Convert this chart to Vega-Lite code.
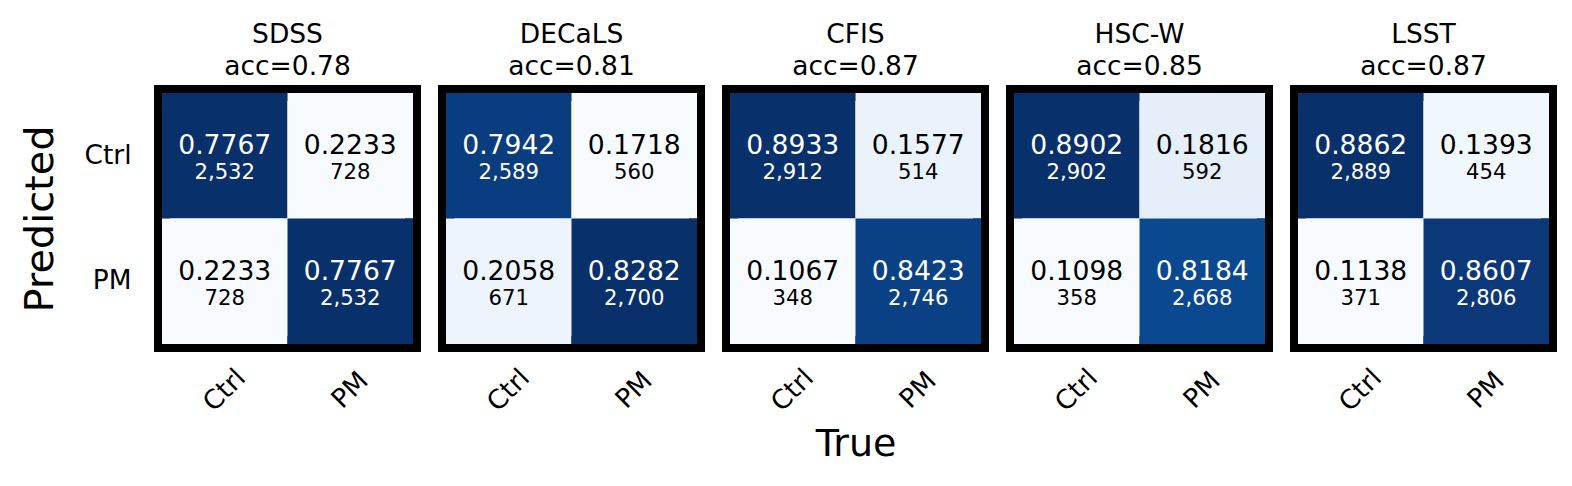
{
  "$schema": "https://vega.github.io/schema/vega-lite/v6.json",
  "padding": {"left": 20, "top": 22, "right": 5, "bottom": 5},
  "background": "white",
  "data": {"values": [
    {"panel": "SDSS|acc=0.78", "true": "Ctrl", "pred": "Ctrl", "frac": 0.7767, "count": 2532},
    {"panel": "SDSS|acc=0.78", "true": "PM", "pred": "Ctrl", "frac": 0.2233, "count": 728},
    {"panel": "SDSS|acc=0.78", "true": "Ctrl", "pred": "PM", "frac": 0.2233, "count": 728},
    {"panel": "SDSS|acc=0.78", "true": "PM", "pred": "PM", "frac": 0.7767, "count": 2532},
    {"panel": "DECaLS|acc=0.81", "true": "Ctrl", "pred": "Ctrl", "frac": 0.7942, "count": 2589},
    {"panel": "DECaLS|acc=0.81", "true": "PM", "pred": "Ctrl", "frac": 0.1718, "count": 560},
    {"panel": "DECaLS|acc=0.81", "true": "Ctrl", "pred": "PM", "frac": 0.2058, "count": 671},
    {"panel": "DECaLS|acc=0.81", "true": "PM", "pred": "PM", "frac": 0.8282, "count": 2700},
    {"panel": "CFIS|acc=0.87", "true": "Ctrl", "pred": "Ctrl", "frac": 0.8933, "count": 2912},
    {"panel": "CFIS|acc=0.87", "true": "PM", "pred": "Ctrl", "frac": 0.1577, "count": 514},
    {"panel": "CFIS|acc=0.87", "true": "Ctrl", "pred": "PM", "frac": 0.1067, "count": 348},
    {"panel": "CFIS|acc=0.87", "true": "PM", "pred": "PM", "frac": 0.8423, "count": 2746},
    {"panel": "HSC-W|acc=0.85", "true": "Ctrl", "pred": "Ctrl", "frac": 0.8902, "count": 2902},
    {"panel": "HSC-W|acc=0.85", "true": "PM", "pred": "Ctrl", "frac": 0.1816, "count": 592},
    {"panel": "HSC-W|acc=0.85", "true": "Ctrl", "pred": "PM", "frac": 0.1098, "count": 358},
    {"panel": "HSC-W|acc=0.85", "true": "PM", "pred": "PM", "frac": 0.8184, "count": 2668},
    {"panel": "LSST|acc=0.87", "true": "Ctrl", "pred": "Ctrl", "frac": 0.8862, "count": 2889},
    {"panel": "LSST|acc=0.87", "true": "PM", "pred": "Ctrl", "frac": 0.1393, "count": 454},
    {"panel": "LSST|acc=0.87", "true": "Ctrl", "pred": "PM", "frac": 0.1138, "count": 371},
    {"panel": "LSST|acc=0.87", "true": "PM", "pred": "PM", "frac": 0.8607, "count": 2806}
  ]},
  "facet": {
    "column": {
      "field": "panel",
      "type": "nominal",
      "sort": ["SDSS|acc=0.78", "DECaLS|acc=0.81", "CFIS|acc=0.87", "HSC-W|acc=0.85", "LSST|acc=0.87"],
      "header": {
        "title": "True",
        "titleOrient": "bottom",
        "titleFontSize": 38,
        "titleFontWeight": "normal",
        "titleColor": "black",
        "titlePadding": -1,
        "labelOrient": "top",
        "labelExpr": "split(datum.value, '|')",
        "labelFontSize": 26.5,
        "labelColor": "black",
        "labelLineHeight": 32,
        "labelBaseline": "bottom",
        "labelPadding": -22.5
      }
    }
  },
  "spacing": 17,
  "resolve": {"scale": {"color": "independent"}},
  "spec": {
    "width": 251,
    "height": 251,
    "encoding": {
      "x": {"field": "true", "type": "nominal", "sort": ["Ctrl", "PM"],
        "axis": {"title": null, "labelAngle": -45, "labelAlign": "center", "labelBaseline": "middle", "labelPadding": 38}},
      "y": {"field": "pred", "type": "nominal", "sort": ["Ctrl", "PM"],
        "axis": {"title": "Predicted", "titleFontSize": 39.8, "titleFontWeight": "normal", "titlePadding": 24, "labelPadding": 23}}
    },
    "layer": [
      {
        "mark": {"type": "rect"},
        "encoding": {
          "color": {"field": "frac", "type": "quantitative", "legend": null,
            "scale": {"zero": false, "nice": false,
              "range": ["#f7fbff", "#deebf7", "#c6dbef", "#9ecae1", "#6baed6", "#4292c6", "#2171b5", "#08519c", "#08306b"]}}
        }
      },
      {
        "mark": {"type": "text", "fontSize": 26.6, "baseline": "alphabetic", "dy": -1.5},
        "encoding": {
          "text": {"field": "frac", "type": "quantitative", "format": ".4f"},
          "color": {"condition": {"test": "datum.frac > 0.5", "value": "white"}, "value": "black"}
        }
      },
      {
        "mark": {"type": "text", "fontSize": 21.2, "baseline": "alphabetic", "dy": 23.5},
        "encoding": {
          "text": {"field": "count", "type": "quantitative", "format": ",d"},
          "color": {"condition": {"test": "datum.frac > 0.5", "value": "white"}, "value": "black"}
        }
      }
    ]
  },
  "config": {
    "font": "DejaVu Sans",
    "view": {"stroke": "black", "strokeWidth": 16},
    "axis": {"labelFontSize": 26.4, "labelColor": "black", "titleColor": "black", "ticks": false, "tickSize": 0, "domain": false, "grid": false, "labelFont": "DejaVu Sans", "titleFont": "DejaVu Sans"},
    "header": {"labelFont": "DejaVu Sans", "titleFont": "DejaVu Sans"}
  }
}
